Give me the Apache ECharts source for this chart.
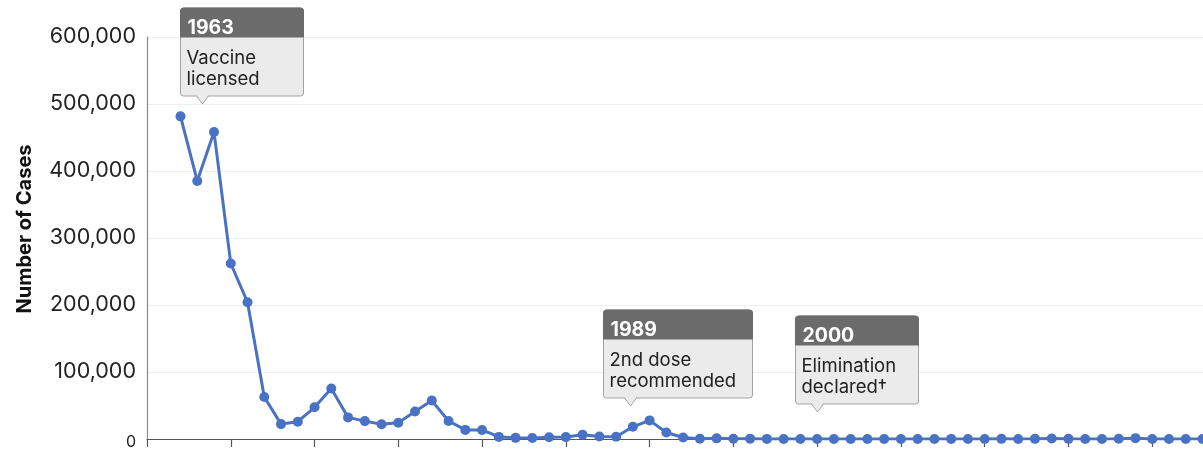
<!DOCTYPE html>
<html>
<head>
<meta charset="utf-8">
<title>Measles Cases in the United States</title>
<script src="https://cdn.jsdelivr.net/npm/echarts@6/dist/echarts.min.js"></script>
<style>
  html, body { margin: 0; padding: 0; background: #fff; }
  #chart { width: 1203px; height: 452px; }
</style>
</head>
<body>
<div id="chart"></div>
<script>
// Reported measles cases per year
const years = [
  1962, 1963, 1964, 1965, 1966, 1967, 1968, 1969, 1970, 1971,
  1972, 1973, 1974, 1975, 1976, 1977, 1978, 1979, 1980, 1981,
  1982, 1983, 1984, 1985, 1986, 1987, 1988, 1989, 1990, 1991,
  1992, 1993, 1994, 1995, 1996, 1997, 1998, 1999, 2000, 2001,
  2002, 2003, 2004, 2005, 2006, 2007, 2008, 2009, 2010, 2011,
  2012, 2013, 2014, 2015, 2016, 2017, 2018, 2019, 2020, 2021,
  2022, 2023
];
const cases = [
  481530, 385156, 458083, 261904, 204136, 62705, 22231, 25826, 47351, 75290,
  32275, 26690, 22094, 24374, 41126, 57345, 26871, 13597, 13506, 3124,
  1714, 1497, 2587, 2822, 6282, 3655, 3396, 18193, 27786, 9643,
  2237, 312, 963, 309, 508, 138, 100, 100, 86, 116,
  44, 56, 37, 66, 55, 43, 140, 71, 63, 220,
  55, 187, 667, 188, 86, 120, 375, 1274, 13, 49,
  121, 59
];

// Milestone notes: year heading, body text, and the point each one marks
const noteYears = ['1963', '1989', '2000'];
const noteTexts = ['Vaccine\nlicensed', '2nd dose\nrecommended', 'Elimination\ndeclared\u2020'];
const noteAtYear = [1963.3, 1988.8, 2000];
const noteAtCases = [500000, 50000, 40000];

const yTicks = [0, 100000, 200000, 300000, 400000, 500000, 600000];

const FONT = 'Inter, "Noto Sans", sans-serif';
const chart = echarts.init(document.getElementById('chart'), null, { renderer: 'canvas' });

chart.setOption({
  animation: false,
  backgroundColor: '#ffffff',
  grid: { left: 147, top: 37, width: 1089, height: 402, containLabel: false, outerBoundsMode: 'none' },
  xAxis: {
    type: 'value',
    min: 1960,
    max: 2025,
    interval: 5,
    axisLine: { show: true, lineStyle: { color: '#555555', width: 1.2 } },
    axisTick: { show: true, length: 8, lineStyle: { color: '#555555', width: 1.2 } },
    axisLabel: { show: false },
    splitLine: { show: false }
  },
  yAxis: {
    type: 'value',
    min: yTicks[0],
    max: yTicks[yTicks.length - 1],
    interval: yTicks[1] - yTicks[0],
    name: 'Number of Cases',
    nameLocation: 'middle',
    nameRotate: 90,
    nameGap: 112,
    nameTextStyle: {
      fontFamily: FONT, fontSize: 20, fontWeight: 'bold', color: '#111111',
      padding: [0, 0, 0, 18]
    },
    axisLine: { show: true, lineStyle: { color: '#8a8a8a', width: 1.2 } },
    axisTick: { show: false },
    axisLabel: {
      margin: 11,
      fontFamily: FONT,
      fontSize: 21.5,
      color: '#222222',
      formatter: function (v) {
        return v === 0 ? '{zero|0}' : v.toLocaleString('en-US');
      },
      rich: { zero: { fontFamily: FONT, fontSize: 16, color: '#222222', padding: [6, 0, 0, 0] } }
    },
    splitLine: { show: true, lineStyle: { color: '#eeeeee', width: 1 } }
  },
  series: [{
    type: 'line',
    data: years.map(function (y, i) { return [y, cases[i]]; }),
    symbol: 'circle',
    symbolSize: 10,
    lineStyle: { color: '#4a72c4', width: 3 },
    itemStyle: { color: '#4a72c4' },
    z: 3
  }]
});

// Draw the milestone callouts at their data positions
const measure = document.createElement('canvas').getContext('2d');
function textWidth(str, font) {
  measure.font = font;
  return Math.max.apply(null, str.split('\n').map(function (s) { return measure.measureText(s).width; }));
}

const HEAD_H = 29, BODY_H = 59, TIP_H = 8, TIP_HALF = 6, MIN_W = 123;
const BODY_SIZE = 18.5, HEAD_SIZE = 19.5;
const elements = [];
noteYears.forEach(function (yr, i) {
  const p = chart.convertToPixel({ gridIndex: 0 }, [noteAtYear[i], noteAtCases[i]]);
  const ax = Math.round(p[0]) + 0.5;
  const tip = Math.round(p[1]);
  const w = Math.max(MIN_W, Math.ceil(textWidth(noteTexts[i], BODY_SIZE + 'px ' + FONT)) + 22);
  const left = Math.round(ax - 0.185 * w) + 0.5;
  const bottom = tip - TIP_H;
  const top = bottom - HEAD_H - BODY_H;

  elements.push(
    { type: 'rect', z: 10, shape: { x: left, y: top, width: w, height: HEAD_H + BODY_H, r: 3 },
      style: { fill: '#ebebeb', stroke: '#a3a3a3', lineWidth: 1 } },
    { type: 'rect', z: 11, shape: { x: left, y: top, width: w, height: HEAD_H, r: [3, 3, 0, 0] },
      style: { fill: '#6b6b6b', stroke: '#6b6b6b', lineWidth: 1 } },
    { type: 'polygon', z: 12, shape: { points: [[ax - TIP_HALF, bottom - 1], [ax + TIP_HALF, bottom - 1], [ax, tip]] },
      style: { fill: '#ebebeb' } },
    { type: 'polyline', z: 13, shape: { points: [[ax - TIP_HALF, bottom], [ax, tip], [ax + TIP_HALF, bottom]] },
      style: { fill: null, stroke: '#a3a3a3', lineWidth: 1 } },
    { type: 'text', z: 14, x: left + 7, y: top + 10,
      style: { text: yr, fill: '#ffffff', fontFamily: FONT, fontSize: HEAD_SIZE, fontWeight: 'bold',
               lineHeight: 21, verticalAlign: 'top', align: 'left' } },
    { type: 'text', z: 14, x: left + 6, y: top + 40,
      style: { text: noteTexts[i], fill: '#222222', fontFamily: FONT, fontSize: BODY_SIZE,
               lineHeight: 21, verticalAlign: 'top', align: 'left' } }
  );
});
chart.setOption({ graphic: { elements: elements } });
</script>
</body>
</html>
